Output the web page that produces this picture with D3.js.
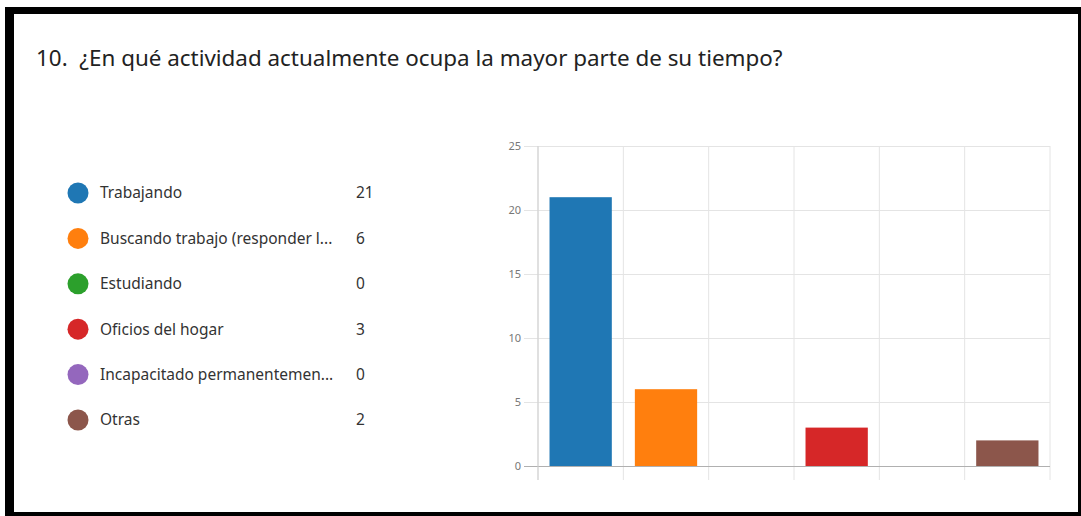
<!DOCTYPE html>
<html><head><meta charset="utf-8">
<script src="https://cdn.jsdelivr.net/npm/d3@7"></script>
<style>
html,body{margin:0;padding:0;background:#fff;}
svg{display:block;}
text{font-family:"Segoe UI","Noto Sans","Open Sans",sans-serif;}
</style></head><body>
<svg id="c" width="1081" height="516"></svg>
<script>
const title = "10.  ¿En qué actividad actualmente ocupa la mayor parte de su tiempo?";
const categories = ["Trabajando","Buscando trabajo (responder l...","Estudiando","Oficios del hogar","Incapacitado permanentemen...","Otras"];
const values = [21, 6, 0, 3, 0, 2];
const colors = ["#1f77b4","#ff7f0e","#2ca02c","#d62728","#9467bd","#8c564b"];
const yTicks = [0, 5, 10, 15, 20, 25];

const svg = d3.select("#c");
svg.append("rect").attr("x",0).attr("y",0).attr("width",1081).attr("height",516).attr("fill","#fff");
// black borders
svg.append("rect").attr("x",5).attr("y",7).attr("width",1076).attr("height",7).attr("fill","#000");
svg.append("rect").attr("x",5).attr("y",7).attr("width",9).attr("height",509).attr("fill","#000");
svg.append("rect").attr("x",1078).attr("y",7).attr("width",3).attr("height",509).attr("fill","#000");
svg.append("rect").attr("x",5).attr("y",512).attr("width",1076).attr("height",4).attr("fill","#000");

// title
const t = svg.append("text").attr("x",36).attr("y",66).attr("fill","#222")
  .style("white-space","pre").style("font-size","21px").text(title);
const tw = t.node().getComputedTextLength();
t.style("font-size", (21*747/tw).toFixed(2)+"px");

// chart
const x = d3.scaleBand().domain(categories).range([538,1050]).paddingInner(0.27).paddingOuter(0.135);
const y = d3.scaleLinear().domain([0,25]).range([466,146]);
const band = d3.scaleBand().domain(categories).range([538,1050]);

const g = svg.append("g");
g.selectAll("line.v").data(d3.range(7)).join("line")
  .attr("x1",i=>538+i*band.step()).attr("x2",i=>538+i*band.step())
  .attr("y1",146).attr("y2",480).attr("stroke","#e4e4e4").attr("stroke-width",1);
const yAxis = d3.axisLeft(y).tickValues(yTicks).tickSize(-(1050-524)).tickPadding(3);
const ax = g.append("g").attr("transform","translate(524,0)").call(yAxis);
ax.select(".domain").remove();
ax.selectAll(".tick line").attr("stroke",d=>d===0?"#b0b0b0":"#e4e4e4");
ax.selectAll(".tick text").attr("fill","#777").style("font-size","11px").attr("dy","0.35em");
g.append("line").attr("x1",538).attr("x2",538).attr("y1",146).attr("y2",480).attr("stroke","#cfcfcf");

g.selectAll("rect.bar").data(values).join("rect")
  .attr("x",(d,i)=>x(categories[i])).attr("width",x.bandwidth())
  .attr("y",d=>y(d)).attr("height",d=>y(0)-y(d))
  .attr("fill",(d,i)=>colors[i]);

// legend
const lg = svg.append("g");
const rows = lg.selectAll("g").data(categories).join("g")
  .attr("transform",(d,i)=>`translate(0,${193+i*45.4})`);
rows.append("circle").attr("cx",78).attr("cy",0).attr("r",10.5).attr("fill",(d,i)=>colors[i]);
rows.append("text").attr("x",100).attr("y",0).attr("dy","0.35em").attr("fill","#333")
  .style("font-size","15.5px").text(d=>d);
rows.append("text").attr("x",356).attr("y",0).attr("dy","0.35em").attr("fill","#333")
  .style("font-size","15.5px").text((d,i)=>values[i]);
</script></body></html>
